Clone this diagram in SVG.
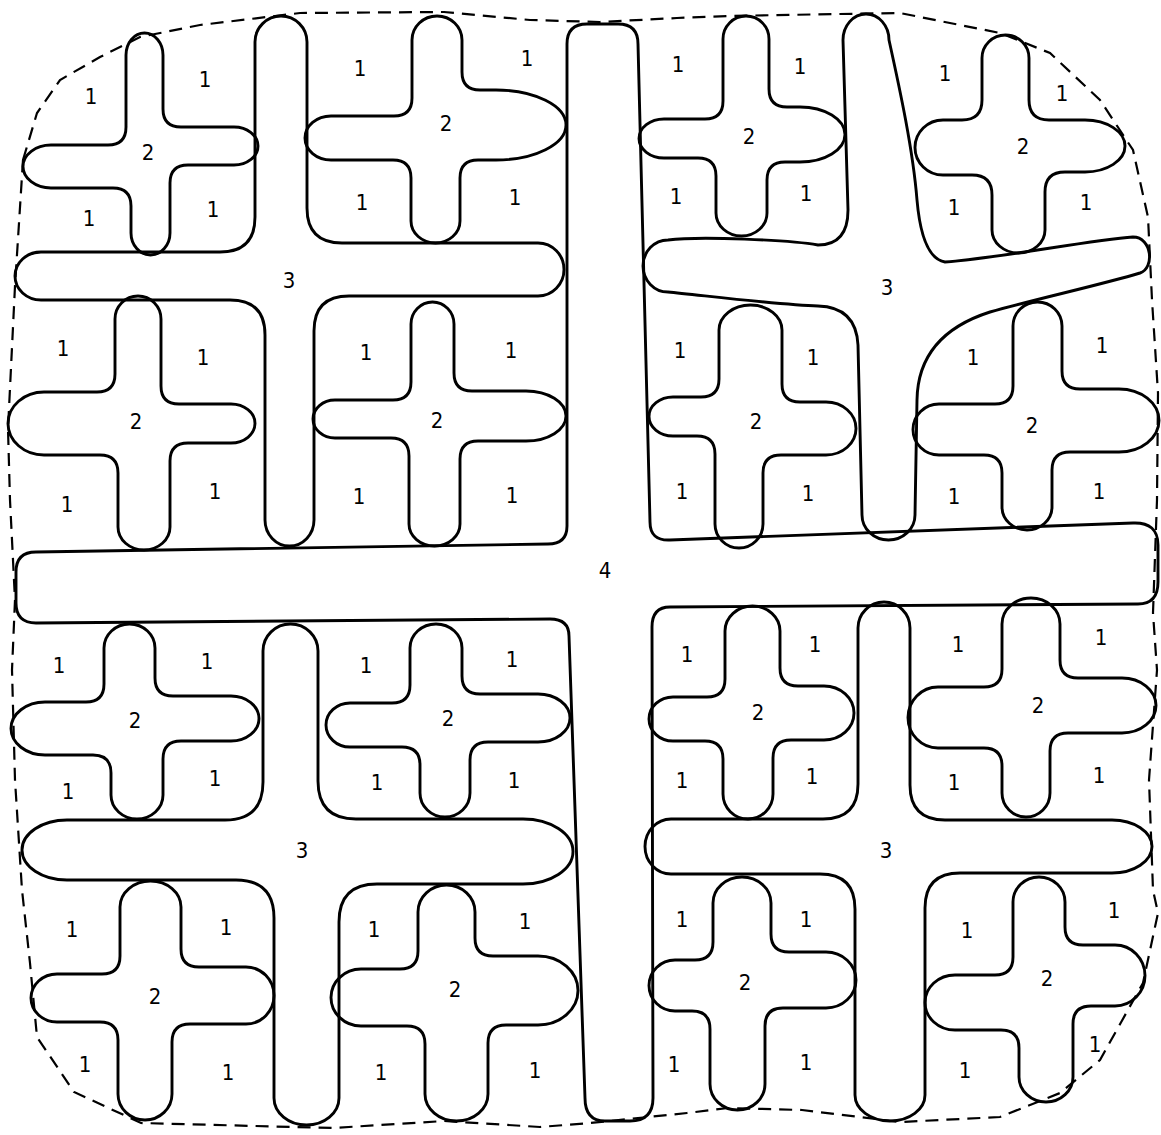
<svg xmlns="http://www.w3.org/2000/svg" width="1161" height="1135" viewBox="0 0 1161 1135">
<style>
.o{fill:none;stroke:#000;stroke-width:2.9;stroke-linejoin:round;stroke-linecap:round}
.d{fill:none;stroke:#000;stroke-width:2.2;stroke-dasharray:13 8}
text{font-family:"Liberation Sans Narrow","DejaVu Sans Condensed","Liberation Sans",sans-serif;font-size:22px;fill:#000;text-anchor:middle}
</style>
<rect width="1161" height="1135" fill="#fff"/>
<g id="boundary">
<path class="d" d="M23,160 L37,113 L60,80 L100,57 L140,37 L200,25 L300,13 L444,12 L530,20 L600,22 L677,18 L728,16 L839,14 L900,13 L1000,33 L1050,53 L1100,100 L1133,150 L1148,217 L1152,300 L1158,393 L1157,500 L1153,613 L1157,670 L1149,780 L1153,890 L1158,913 L1143,983 L1100,1060 L1060,1093 L1000,1117 L900,1122 L802,1110 L728,1108 L687,1113 L590,1123 L540,1127 L444,1121 L333,1128 L141,1123 L74,1092 L37,1037 L30,963 L22,890 L15,780 L12,670 L15,600 L10,500 L8,429 L15,286 Z"/>
</g>
<g id="connectors"></g>
<g id="cross4">
<path class="o" d="M567,44 Q567,24 587,24 L618,24 Q638,24 638,44 L650,522 Q650,541 670,540 L1133,523 Q1158,522 1158,545 L1158,582 Q1158,604 1138,604 L670,607 Q652,607 652,627 L653,1098 Q653,1121 630,1121 L605,1121 Q585,1121 585,1098 L569,636 Q569,619 550,619 L36,623 Q16,623 16,603 L16,572 Q16,552 36,552 L548,544 Q567,544 567,526 Z"/>
<text x="605" y="578">4</text>
</g>
<g id="cross3-tl">
<path class="o" d="M255,42 A26,26 0 0 1 307,42 L307,208 Q307,243 342,243 L538,243 A26,26.5 0 0 1 538,296 L349,296 Q314,296 314,331 L314,520 A24.5,26 0 0 1 265,520 L265,335 Q265,300 230,300 L41,300 A26,24 0 0 1 41,252 L220,252 Q255,252 255,217 Z"/>
<text x="289" y="288">3</text>
</g>
<g id="cross3-tr">
<path class="o" d="M843,40 A23,26 0 0 1 889,40 C900,90 913,150 917,200 Q922,258 945,262 C1000,258 1090,240 1133,237 C1152,237 1155,268 1140,273 C1100,285 1040,298 990,312 Q918,335 917,400 L915,515 A26.5,25 0 0 1 862,515 L858,345 Q856,307 818,306 C780,305 700,295 668,292 A25,26 0 0 1 668,240 C700,236 790,240 818,245 Q848,245 848,210 Z"/>
<text x="887" y="295">3</text>
</g>
<g id="cross3-bl">
<path class="o" d="M263,651 A27.5,27 0 0 1 318,651 L318,781 Q318,819 356,819 L523,819 A50,32.5 0 0 1 523,884 L377,884 Q339,884 339,922 L339,1098 A32.5,27 0 0 1 274,1098 L274,918 Q274,880 236,880 L67,880 A45,30 0 0 1 67,820 L225,820 Q263,820 263,782 Z"/>
<text x="302" y="858">3</text>
</g>
<g id="cross3-br">
<path class="o" d="M858,628 A26,26 0 0 1 910,628 L910,785 Q910,820 945,820 L1112,820 A40,26.5 0 0 1 1112,873 L960,873 Q925,873 925,908 L925,1095 A35,26 0 0 1 855,1095 L855,909 Q855,874 820,874 L671,874 A26,27.5 0 0 1 671,819 L823,819 Q858,819 858,784 Z"/>
<text x="886" y="858">3</text>
</g>
<g id="cross2-a">
<path class="o" d="M126,55 A18.5,22 0 0 1 163,55 L163,109 Q163,127 181,127 L234,127 A24,19 0 0 1 234,165 L188,165 Q170,165 170,183 L170,233 A19.5,22 0 0 1 131,233 L131,206 Q131,188 113,188 L51,188 A28,21.5 0 0 1 51,145 L108,145 Q126,145 126,127 Z"/>
<text x="148" y="160">2</text>
</g>
<g id="cross2-b">
<path class="o" d="M412,40 A25,24 0 0 1 462,40 L462,72 Q462,90 480,90 L496,90 A70,35 0 0 1 496,160 L478,160 Q460,160 460,178 L460,221 A24.5,22 0 0 1 411,221 L411,178 Q411,160 393,160 L331,160 A26,22 0 0 1 331,116 L394,116 Q412,116 412,98 Z"/>
<text x="446" y="131">2</text>
</g>
<g id="cross2-c">
<path class="o" d="M115,319 A23,23 0 0 1 161,319 L161,386 Q161,404 179,404 L231,404 A24,19.5 0 0 1 231,443 L188,443 Q170,443 170,461 L170,527 A26,23 0 0 1 118,527 L118,473 Q118,455 100,455 L44,455 A36,31.5 0 0 1 44,392 L97,392 Q115,392 115,374 Z"/>
<text x="136" y="429">2</text>
</g>
<g id="cross2-d">
<path class="o" d="M411,324 A21.5,22 0 0 1 454,324 L454,373 Q454,391 472,391 L526,391 A40,25 0 0 1 526,441 L478,441 Q460,441 460,459 L460,524 A25.5,22 0 0 1 409,524 L409,456 Q409,438 391,438 L335,438 A22,19 0 0 1 335,400 L393,400 Q411,400 411,382 Z"/>
<text x="437" y="428">2</text>
</g>
<g id="cross2-e">
<path class="o" d="M723,39 A23,23 0 0 1 769,39 L769,89 Q769,107 787,107 L800,107 A45,27.5 0 0 1 800,162 L785,162 Q767,162 767,180 L767,213 A25.5,23 0 0 1 716,213 L716,176 Q716,158 698,158 L664,158 A25,19.5 0 0 1 664,119 L705,119 Q723,119 723,101 Z"/>
<text x="749" y="144">2</text>
</g>
<g id="cross2-f">
<path class="o" d="M982,58 A23.5,23 0 0 1 1029,58 L1029,100 Q1029,120 1049,120 L1085,120 A40,26 0 0 1 1085,172 L1065,172 Q1045,172 1045,192 L1045,230 A26.5,23 0 0 1 992,230 L992,195 Q992,175 972,175 L943,175 A28,27.5 0 0 1 943,120 L962,120 Q982,120 982,100 Z"/>
<text x="1023" y="154">2</text>
</g>
<g id="cross2-g">
<path class="o" d="M719,330 A31.5,25 0 0 1 782,330 L782,384 Q782,402 800,402 L826,402 A30,26.5 0 0 1 826,455 L781,455 Q763,455 763,473 L763,524 A24,24 0 0 1 715,524 L715,454 Q715,436 697,436 L673,436 A24,19.5 0 0 1 673,397 L701,397 Q719,397 719,379 Z"/>
<text x="756" y="429">2</text>
</g>
<g id="cross2-h">
<path class="o" d="M1013,326 A24.5,24 0 0 1 1062,326 L1062,371 Q1062,389 1080,389 L1119,389 A40,31.5 0 0 1 1119,452 L1070,452 Q1052,452 1052,470 L1052,507 A25,23 0 0 1 1002,507 L1002,473 Q1002,455 984,455 L939,455 A26,25.5 0 0 1 939,404 L995,404 Q1013,404 1013,386 Z"/>
<text x="1032" y="433">2</text>
</g>
<g id="cross2-i">
<path class="o" d="M104,648 A25.5,24 0 0 1 155,648 L155,678 Q155,696 173,696 L231,696 A28,22.5 0 0 1 231,741 L181,741 Q163,741 163,759 L163,795 A26,24 0 0 1 111,795 L111,773 Q111,755 93,755 L45,755 A34,26.5 0 0 1 45,702 L86,702 Q104,702 104,684 Z"/>
<text x="135" y="728">2</text>
</g>
<g id="cross2-j">
<path class="o" d="M410,648 A26,24 0 0 1 462,648 L462,676 Q462,694 480,694 L538,694 A32,24 0 0 1 538,742 L488,742 Q470,742 470,760 L470,793 A25,24 0 0 1 420,793 L420,765 Q420,747 402,747 L350,747 A24,22 0 0 1 350,703 L392,703 Q410,703 410,685 Z"/>
<text x="448" y="726">2</text>
</g>
<g id="cross2-k">
<path class="o" d="M120,907 A30.5,26 0 0 1 181,907 L181,949 Q181,967 199,967 L246,967 A28,28.5 0 0 1 246,1024 L190,1024 Q172,1024 172,1042 L172,1094 A27,26 0 0 1 118,1094 L118,1040 Q118,1022 100,1022 L57,1022 A26,24 0 0 1 57,974 L102,974 Q120,974 120,956 Z"/>
<text x="155" y="1004">2</text>
</g>
<g id="cross2-l">
<path class="o" d="M418,912 A28.5,27 0 0 1 475,912 L475,938 Q475,956 493,956 L538,956 A40,34.5 0 0 1 538,1025 L506,1025 Q488,1025 488,1043 L488,1094 A31.5,27 0 0 1 425,1094 L425,1044 Q425,1026 407,1026 L361,1026 A30,28.5 0 0 1 361,969 L400,969 Q418,969 418,951 Z"/>
<text x="455" y="997">2</text>
</g>
<g id="cross2-m">
<path class="o" d="M725,631 A27.5,25 0 0 1 780,631 L780,668 Q780,686 798,686 L824,686 A30,27 0 0 1 824,740 L791,740 Q773,740 773,758 L773,794 A25,25 0 0 1 723,794 L723,759 Q723,741 705,741 L673,741 A24,22 0 0 1 673,697 L707,697 Q725,697 725,679 Z"/>
<text x="758" y="720">2</text>
</g>
<g id="cross2-n">
<path class="o" d="M1002,624 A29,26 0 0 1 1060,624 L1060,660 Q1060,678 1078,678 L1122,678 A34,27.5 0 0 1 1122,733 L1068,733 Q1050,733 1050,751 L1050,793 A24,24 0 0 1 1002,793 L1002,766 Q1002,748 984,748 L938,748 A30,30.5 0 0 1 938,687 L984,687 Q1002,687 1002,669 Z"/>
<text x="1038" y="713">2</text>
</g>
<g id="cross2-o">
<path class="o" d="M713,903 A29,26 0 0 1 771,903 L771,934 Q771,952 789,952 L826,952 A30,28 0 0 1 826,1008 L783,1008 Q765,1008 765,1026 L765,1084 A27.5,26 0 0 1 710,1084 L710,1029 Q710,1011 692,1011 L675,1011 A26,25.5 0 0 1 675,960 L695,960 Q713,960 713,942 Z"/>
<text x="745" y="990">2</text>
</g>
<g id="cross2-p">
<path class="o" d="M1013,902 A26,25 0 0 1 1065,902 L1065,927 Q1065,945 1083,945 L1115,945 A30,30.5 0 0 1 1115,1006 L1091,1006 Q1073,1006 1073,1024 L1073,1077 A27,25 0 0 1 1019,1077 L1019,1048 Q1019,1030 1001,1030 L955,1030 A30,27.5 0 0 1 955,975 L995,975 Q1013,975 1013,957 Z"/>
<text x="1047" y="986">2</text>
</g>
<g id="region1-labels">
<text x="91" y="104">1</text><text x="205" y="87">1</text><text x="89" y="226">1</text><text x="213" y="217">1</text>
<text x="360" y="76">1</text><text x="527" y="66">1</text><text x="362" y="210">1</text><text x="515" y="205">1</text>
<text x="63" y="356">1</text><text x="203" y="365">1</text><text x="67" y="512">1</text><text x="215" y="499">1</text>
<text x="366" y="360">1</text><text x="511" y="358">1</text><text x="359" y="504">1</text><text x="512" y="503">1</text>
<text x="678" y="72">1</text><text x="800" y="74">1</text><text x="676" y="204">1</text><text x="806" y="201">1</text>
<text x="945" y="81">1</text><text x="1062" y="101">1</text><text x="954" y="215">1</text><text x="1086" y="210">1</text>
<text x="680" y="358">1</text><text x="813" y="365">1</text><text x="682" y="499">1</text><text x="808" y="501">1</text>
<text x="973" y="365">1</text><text x="1102" y="353">1</text><text x="954" y="504">1</text><text x="1099" y="499">1</text>
<text x="59" y="673">1</text><text x="207" y="669">1</text><text x="68" y="799">1</text><text x="215" y="786">1</text>
<text x="366" y="673">1</text><text x="512" y="667">1</text><text x="377" y="790">1</text><text x="514" y="788">1</text>
<text x="72" y="937">1</text><text x="226" y="935">1</text><text x="85" y="1072">1</text><text x="228" y="1080">1</text>
<text x="374" y="937">1</text><text x="525" y="929">1</text><text x="381" y="1080">1</text><text x="535" y="1078">1</text>
<text x="687" y="662">1</text><text x="815" y="652">1</text><text x="682" y="788">1</text><text x="812" y="784">1</text>
<text x="958" y="652">1</text><text x="1101" y="645">1</text><text x="954" y="790">1</text><text x="1099" y="783">1</text>
<text x="682" y="927">1</text><text x="806" y="927">1</text><text x="674" y="1072">1</text><text x="806" y="1070">1</text>
<text x="967" y="938">1</text><text x="1114" y="918">1</text><text x="965" y="1078">1</text><text x="1095" y="1052">1</text>
</g>
</svg>
